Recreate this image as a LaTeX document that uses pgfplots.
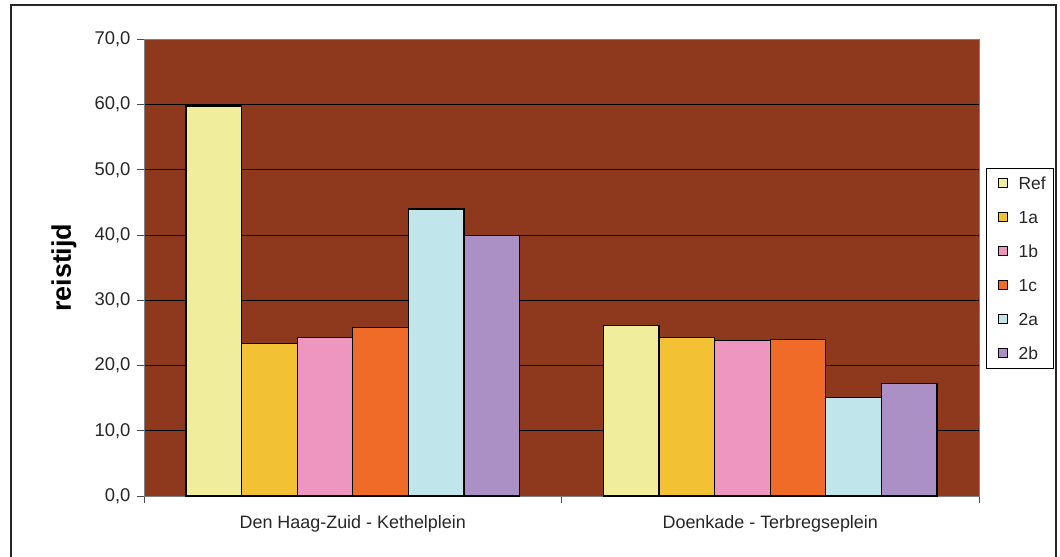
\documentclass[border=0pt]{standalone}
\usepackage{pgfplots}
\pgfplotsset{compat=1.18}
\usepackage{fontspec}
\setmainfont{Liberation Sans}
\definecolor{bgc}{RGB}{142,56,30}
\definecolor{cRef}{RGB}{240,238,156}
\definecolor{c1a}{RGB}{242,194,52}
\definecolor{c1b}{RGB}{238,150,192}
\definecolor{c1c}{RGB}{240,106,40}
\definecolor{c2a}{RGB}{192,230,236}
\definecolor{c2b}{RGB}{170,144,196}
\begin{document}
\begin{tikzpicture}
\begin{scope}[x=1bp,y=-1bp]
\useasboundingbox (0,0) rectangle (1060,557);
\draw[line width=1.5bp, black!85] (11,560) -- (11,5) -- (1056,5) -- (1056,560);
\end{scope}
\begin{axis}[
  at={(144bp,-496bp)}, anchor=south west,
  scale only axis, width=835bp, height=456.5bp,
  xmin=-0.5, xmax=1.5, ymin=0, ymax=70,
  ybar=0pt, bar width=55.6bp,
  axis background/.style={fill=bgc},
  axis line style={draw=gray, line width=1bp},
  ytick={0,10,...,70},
  ymajorgrids, grid style={black, line width=1bp},
  tick align=outside, major tick length=7bp,
  xtick pos=bottom, ytick pos=left,
  tick style={black!70, line width=1bp},
  /pgf/number format/assume math mode=true,
  yticklabel style={font=\fontsize{18.5}{22}\selectfont, text=black!85, xshift=-3bp,
    /pgf/number format/.cd, fixed, fixed zerofill, precision=1, use comma},
  xtick={-0.5,0.5,1.5}, xticklabels={},
  extra x ticks={0,1},
  extra x tick labels={Den Haag-Zuid - Kethelplein, Doenkade - Terbregseplein},
  extra x tick style={major tick length=0pt, tick label style={font=\fontsize{18}{22}\selectfont, text=black!85, yshift=-16bp}},
  ylabel={\textbf{reistijd}},
  every axis y label/.style={at={(-80bp,228.25bp)}, rotate=90, anchor=center,
    font=\fontsize{27}{30}\selectfont, text=black},
  legend style={at={(1.0084,0.7185)}, anchor=north west, draw=black, fill=white,
    line width=0.8bp, font=\fontsize{17.5}{20}\selectfont, text=black!85,
    inner xsep=8bp, inner ysep=9bp, row sep=22bp,
    nodes={inner sep=0pt, text height=12bp, text depth=0bp}},
  legend cell align=left,
  legend image code/.code={\draw[#1, line width=1bp] (3bp,-4.5bp) rectangle (12bp,4.5bp); \path (0bp,0bp) (23bp,0bp);},
  every axis plot/.append style={draw=black, line width=1.2bp},
]
\addplot[fill=cRef] coordinates {(0,59.8) (1,26.1)};
\addplot[fill=c1a] coordinates {(0,23.4) (1,24.3)};
\addplot[fill=c1b] coordinates {(0,24.3) (1,23.9)};
\addplot[fill=c1c] coordinates {(0,25.8) (1,24.0)};
\addplot[fill=c2a] coordinates {(0,44.0) (1,15.1)};
\addplot[fill=c2b] coordinates {(0,40.0) (1,17.3)};
\legend{Ref,1a,1b,1c,2a,2b}
\end{axis}
\end{tikzpicture}
\end{document}
